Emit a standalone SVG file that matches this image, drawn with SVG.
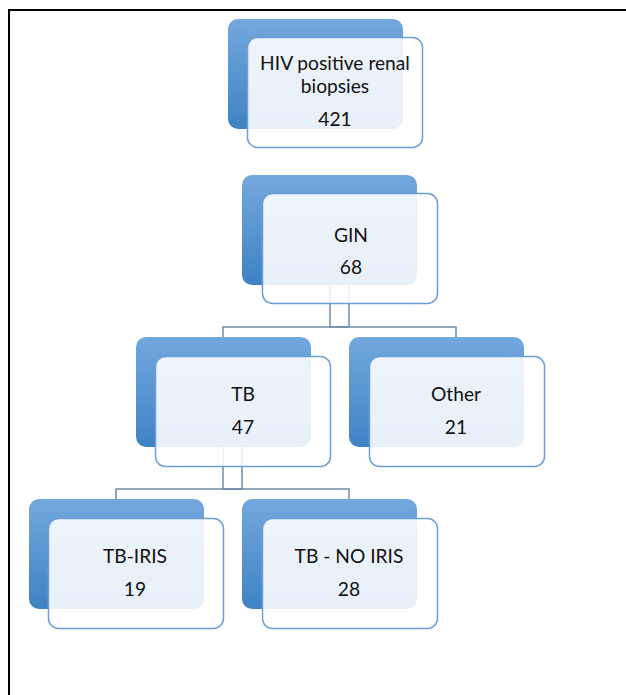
<svg xmlns="http://www.w3.org/2000/svg" width="626" height="695" viewBox="0 0 626 695">
<defs>
<linearGradient id="bg" x1="0" y1="0" x2="0" y2="1">
<stop offset="0" stop-color="#73A8DE"/>
<stop offset="1" stop-color="#3E82C5"/>
</linearGradient>
</defs>
<style>
.back{fill:url(#bg);}
.front{fill:#ffffff;fill-opacity:0.88;stroke:#6C9FD5;stroke-width:1.5;}
.t{font-family:Lato,"Open Sans",sans-serif;font-size:19.2px;fill:#111;text-anchor:middle;}
.c{fill:none;stroke:#6F8CAA;stroke-width:1.5;}
.frame{fill:none;stroke:#000;stroke-width:2;}
</style>
<rect width="626" height="695" fill="#fff"/>
<path class="frame" d="M9,695 V10 H626"/>
<g id="n1">
<rect class="back" x="228" y="19" width="175" height="110" rx="10"/>
<rect class="front" x="247.5" y="37.5" width="175" height="110" rx="10"/>
<text class="t" x="335" y="70">HIV positive renal</text>
<text class="t" x="335" y="93">biopsies</text>
<text class="t" x="335" y="126">421</text>
</g>
<g id="n2">
<rect class="back" x="242" y="175" width="175" height="110" rx="10"/>
</g>
<g id="n3b">
<rect class="back" x="136" y="337" width="175" height="110" rx="10"/>
<rect class="back" x="349" y="337" width="175" height="110" rx="10"/>
</g>
<g id="n5b">
<rect class="back" x="29" y="499" width="175" height="110" rx="10"/>
<rect class="back" x="242" y="499" width="175" height="110" rx="10"/>
</g>
<g id="connectors">
<path class="c" d="M349,285 V327 H223 V337"/>
<path class="c" d="M330,285 V327 H456 V337"/>
<path class="c" d="M242,447 V489 H116 V499"/>
<path class="c" d="M223,447 V489 H349 V499"/>
</g>
<g id="GIN">
<rect class="front" x="262.5" y="193.5" width="175" height="110" rx="10"/>
<text class="t" x="351" y="242">GIN</text>
<text class="t" x="351" y="274">68</text>
</g>
<g id="TB">
<rect class="front" x="155.5" y="356.5" width="175" height="110" rx="10"/>
<text class="t" x="243" y="401">TB</text>
<text class="t" x="243" y="434">47</text>
</g>
<g id="Other">
<rect class="front" x="369.5" y="356.5" width="175" height="110" rx="10"/>
<text class="t" x="456" y="401">Other</text>
<text class="t" x="456" y="434">21</text>
</g>
<g id="TB-IRIS">
<rect class="front" x="48.5" y="518.5" width="175" height="110" rx="10"/>
<text class="t" x="135" y="563">TB-IRIS</text>
<text class="t" x="135" y="596">19</text>
</g>
<g id="TB-NO-IRIS">
<rect class="front" x="262.5" y="518.5" width="175" height="110" rx="10"/>
<text class="t" x="349" y="563">TB - NO IRIS</text>
<text class="t" x="349" y="596">28</text>
</g>
</svg>
